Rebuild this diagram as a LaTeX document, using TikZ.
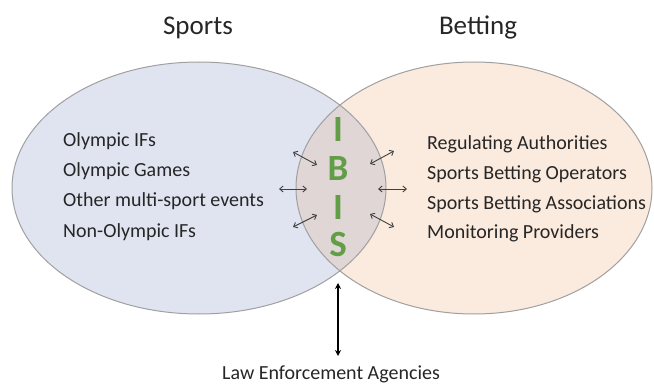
\documentclass[tikz,border=0pt]{standalone}
\usepackage{fontspec}
\setmainfont{Carlito}
\usepackage{tikz}
\usetikzlibrary{arrows.meta}

\definecolor{sportsfill}{RGB}{223,228,240}
\definecolor{bettingfill}{RGB}{251,234,222}
\definecolor{lensfill}{RGB}{224,214,214}
\definecolor{rimgray}{RGB}{160,160,160}
\definecolor{ibisgreen}{RGB}{98,158,72}
\definecolor{textgray}{RGB}{38,38,38}

\tikzset{
  title/.style={font=\fontsize{27}{30}\selectfont, text=textgray, anchor=base, inner sep=0},
  item/.style={font=\fontsize{20}{22}\selectfont, text=textgray, anchor=base west, inner sep=0},
  letter/.style={font=\fontsize{37}{40}\selectfont\bfseries, text=ibisgreen, anchor=base, inner sep=0},
  link/.style={<->, >={Straight Barb[length=3.5pt,width=6pt]}, draw=black!75, line width=0.9pt},
  rim/.style={draw=rimgray, line width=1pt}
}

\begin{document}
\begin{tikzpicture}[x={(1pt,0)}, y={(0,-1pt)}]
  \useasboundingbox (0,0) rectangle (654,385);

  % Draw ellipses
  \fill [sportsfill] (199,188) ellipse [x radius=187, y radius=126];
  \fill [bettingfill] (474,188) ellipse [x radius=178, y radius=126];
  \begin{scope}
    \clip (199,188) ellipse [x radius=187, y radius=126];
    \fill [lensfill] (474,188) ellipse [x radius=178, y radius=126];
  \end{scope}
  \draw [rim] (199,188) ellipse [x radius=187, y radius=126];
  \draw [rim] (474,188) ellipse [x radius=178, y radius=126];

  % Titles
  \node [title] (sports) at (198,35) {Sports};
  \node [title] (betting) at (478,35) {Betting};

  % Sports side
  \node [item] (oifs) at (63,147) {Olympic IFs};
  \node [item] (ogames) at (63,177) {Olympic Games};
  \node [item] (multi) at (63,206.5) {Other multi-sport events};
  \node [item] (nonoifs) at (63,237) {Non-Olympic IFs};

  % Betting side
  \node [item] (regul) at (427,150) {Regulating Authorities};
  \node [item] (operat) at (427,180) {Sports Betting Operators};
  \node [item] (assoc) at (427,210) {Sports Betting Associations};
  \node [item] (monit) at (427,239) {Monitoring Providers};

  % IBIS
  \node [letter] (i1) at (338,142) {I};
  \node [letter] (b) at (338,181) {B};
  \node [letter] (i2) at (338,219) {I};
  \node [letter] (s) at (338,257) {S};

  % Small arrows
  \foreach \xa/\ya/\xb/\yb [count=\i] in {293/152/317/165, 279/189/307/189, 293/227/317/215,
                                        370/164/394/151, 378/189/407/189, 370/214/394/227}
  {
    \path (\xa,\ya) coordinate (a\i) (\xb,\yb) coordinate (b\i);
    \draw [link] (a\i) -- (b\i);
  }

  % Law enforcement
  \node [title, font=\fontsize{20}{22}\selectfont] (law) at (331,379) {Law Enforcement Agencies};
  \coordinate (lawtop) at (338,283);
  \coordinate (lawbot) at (338,356);
  \draw [{Stealth[length=6pt,width=6pt]}-{Stealth[length=6pt,width=6pt]}, line width=2pt] (lawtop) -- (lawbot);
\end{tikzpicture}
\end{document}
